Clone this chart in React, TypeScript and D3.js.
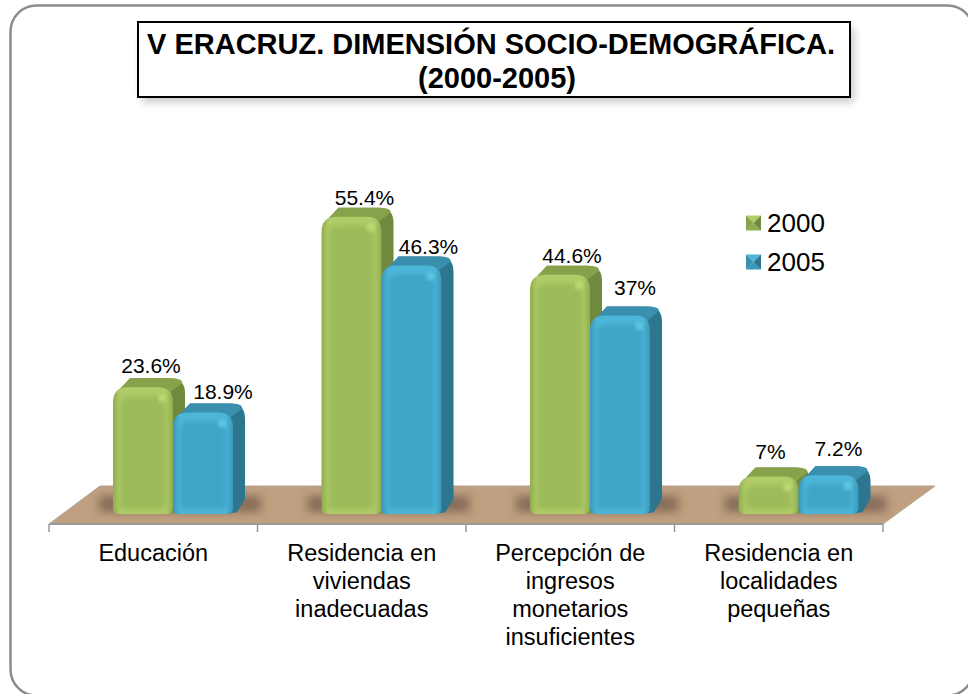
import React from 'react';
import { scaleBand, scaleLinear, path as d3path } from 'd3';

const categories = [
  ['Educación'],
  ['Residencia en', 'viviendas', 'inadecuadas'],
  ['Percepción de', 'ingresos', 'monetarios', 'insuficientes'],
  ['Residencia en', 'localidades', 'pequeñas'],
];
const years = ['2000', '2005'];
const values2000 = [23.6, 55.4, 44.6, 7];
const values2005 = [18.9, 46.3, 37, 7.2];
const labels2000 = ['23.6%', '55.4%', '44.6%', '7%'];
const labels2005 = ['18.9%', '46.3%', '37%', '7.2%'];

// label nudges
const labelDx = [[8, 20], [13, 17], [12, 15], [2, 10]];
const labelDy = [[5, 5], [3, 3], [3, 11], [8, 10]];

const colors = [
  { face: '#9dbb5a', light: '#b0cc68', dark: '#8fac50', top: '#87a24b', side: '#6f8a3c', spot: '#d9ef80' },
  { face: '#41a4c6', light: '#4db6d8', dark: '#3a98b9', top: '#3a8fae', side: '#2c768f', spot: '#78ddf2' },
];

const W = 968, H = 694;
const axisLeft = 49, axisRight = 883, axisY = 524;
const baseY = 514, depthX = 12, depthY = 9;

const x = scaleBand().domain(['0', '1', '2', '3']).range([axisLeft, axisRight]);
const inner = scaleBand().domain(years).range([64, 184]);
const y = scaleLinear().domain([0, 60]).range([baseY, 192]);

function roundedBox(x0: number, x1: number, top: number, bottom: number, rt: number, rb: number) {
  const p = d3path();
  p.moveTo(x0, top + rt);
  p.quadraticCurveTo(x0, top, x0 + rt, top);
  p.lineTo(x1 - rt, top);
  p.quadraticCurveTo(x1, top, x1, top + rt);
  p.lineTo(x1, bottom - rb);
  p.quadraticCurveTo(x1, bottom, x1 - rb, bottom);
  p.lineTo(x0 + rb, bottom);
  p.quadraticCurveTo(x0, bottom, x0, bottom - rb);
  p.closePath();
  return p.toString();
}

function Bar({ cat, s, value }: { cat: number; s: number; value: number }) {
  const c = colors[s];
  const x0 = (x(String(cat)) as number) + inner(years[s])!;
  const x1 = x0 + inner.bandwidth();
  const top = y(value);
  const r = Math.min(15, (baseY - top) / 2.4);
  const backTop = top - depthY;
  return (
    <g>
      {/* back silhouette: top + side */}
      <path d={`M${x0 + 3},${top + 6} L${x0 + r + 2},${backTop} L${x1 + depthX - r},${backTop} Q${x1 + depthX},${backTop} ${x1 + depthX},${backTop + r} L${x1 + depthX},${baseY - depthY - 6} L${x1 + 4},${baseY - 2} L${x1 - 6},${baseY} Z`} fill={c.side} />
      <path d={`M${x0 + 3},${top + 6} L${x0 + r + 2},${backTop} L${x1 + depthX - r},${backTop} Q${x1 + depthX - 2},${backTop} ${x1 + depthX - 3},${backTop + 5} L${x1 - 4},${top + 6} Z`} fill={c.top} />
      {/* front face */}
      <path d={roundedBox(x0, x1, top, baseY, r, 6)} fill={`url(#face${s})`} />
      <path d={roundedBox(x0 + 7, x1 - 7, top + 9, baseY - 5, Math.max(r - 6, 3), 3)} fill={c.face} filter="url(#soft)" />
      <circle cx={x1 - 11} cy={top + 11} r={3} fill={c.spot} filter="url(#soft)" />
    </g>
  );
}

function Swatch({ s, cy }: { s: number; cy: number }) {
  const c = colors[s];
  const size = 15, x0 = 746, y0 = cy - size / 2, m = size / 2;
  const xm = x0 + m, ym = y0 + m, x1 = x0 + size, y1 = y0 + size;
  return (
    <g>
      <path d={`M${x0},${y0}L${x1},${y0}L${xm},${ym}Z`} fill={c.light} />
      <path d={`M${x0},${y1}L${x1},${y1}L${xm},${ym}Z`} fill={c.dark} />
      <path d={`M${x0},${y0}L${x0},${y1}L${xm},${ym}Z`} fill={c.top} />
      <path d={`M${x1},${y0}L${x1},${y1}L${xm},${ym}Z`} fill={c.side} />
    </g>
  );
}

export default function App() {
  const font = '"Liberation Sans", Arial, sans-serif';
  const series = [values2000, values2005];
  const labels = [labels2000, labels2005];
  const ticks = [...x.domain().map((d) => x(d) as number), axisRight];

  return (
    <div style={{ position: 'absolute', left: 0, top: 0 }}>
      <svg width={W} height={H} viewBox={`0 0 ${W} ${H}`} fontFamily={font} style={{ display: 'block' }}>
        <defs>
          <filter id="soft" x="-30%" y="-30%" width="160%" height="160%">
            <feGaussianBlur stdDeviation="2.5" />
          </filter>
          <filter id="floorShadow" x="-30%" y="-100%" width="160%" height="300%">
            <feGaussianBlur stdDeviation="5" />
          </filter>
          <filter id="titleShadow" x="-5%" y="-20%" width="110%" height="150%">
            <feGaussianBlur stdDeviation="4" />
          </filter>
          {colors.map((c, i) => (
            <linearGradient key={i} id={`face${i}`} x1="0" x2="1" y1="0" y2="0">
              <stop offset="0" stopColor={c.dark} />
              <stop offset="0.12" stopColor={c.light} />
              <stop offset="0.88" stopColor={c.light} />
              <stop offset="1" stopColor={c.dark} />
            </linearGradient>
          ))}
        </defs>

        <rect x={0} y={0} width={W} height={H} fill="#ffffff" />
        <rect x={10.5} y={5.5} width={963} height={690} rx={26} fill="#ffffff" stroke="#8c8c8c" strokeWidth={2.5} />

        {/* title */}
        <rect x={142} y={28} width={712} height={74} fill="#000000" opacity={0.22} filter="url(#titleShadow)" />
        <rect x={138} y={22} width={712} height={75} fill="#ffffff" stroke="#000000" strokeWidth={2} />
        <text x={147} y={54} fontSize={29} fontWeight="bold" fill="#000">V ERACRUZ. DIMENSIÓN SOCIO-DEMOGRÁFICA.</text>
        <text x={497} y={88} fontSize={29} fontWeight="bold" fill="#000" textAnchor="middle">(2000-2005)</text>

        {/* floor */}
        <path d={`M${axisLeft},${axisY}L${axisLeft + 51},486L${axisRight + 52},486L${axisRight},${axisY}Z`} fill="#c0a080" stroke="#b3a491" strokeWidth={1} />
        <path d={`M${axisLeft},${axisY}L${axisRight},${axisY}`} stroke="#999999" strokeWidth={2} />
        {ticks.map((t) => (
          <line key={t} x1={t} x2={t} y1={axisY} y2={532} stroke="#999999" strokeWidth={1.5} />
        ))}

        {/* shadows on the floor */}
        {categories.map((_, i) => {
          const x0 = (x(String(i)) as number) + 64;
          return <rect key={i} x={x0 - 14} y={496} width={162} height={16} fill="#5f4a3c" opacity={0.6} filter="url(#floorShadow)" />;
        })}

        {/* bars */}
        {categories.map((_, i) => (
          <g key={i}>
            {series.map((vals, s) => (
              <Bar key={s} cat={i} s={s} value={vals[i]} />
            ))}
          </g>
        ))}

        {/* data labels */}
        {categories.map((_, i) =>
          series.map((vals, s) => {
            const cx = (x(String(i)) as number) + inner(years[s])! + inner.bandwidth() / 2;
            return (
              <text key={`${i}-${s}`} x={cx + labelDx[i][s]} y={y(vals[i]) - depthY - labelDy[i][s]} fontSize={21} textAnchor="middle" fill="#000">
                {labels[s][i]}
              </text>
            );
          })
        )}

        {/* category labels */}
        {categories.map((lines, i) => (
          <text key={i} fontSize={23.5} textAnchor="middle" fill="#000">
            {lines.map((l, j) => (
              <tspan key={j} x={(x(String(i)) as number) + x.bandwidth() / 2} y={561 + j * 28}>{l}</tspan>
            ))}
          </text>
        ))}

        {/* legend */}
        {years.map((yr, s) => (
          <g key={yr}>
            <Swatch s={s} cy={223 + s * 39} />
            <text x={767} y={232 + s * 39} fontSize={26} fill="#000">{yr}</text>
          </g>
        ))}
      </svg>
    </div>
  );
}
